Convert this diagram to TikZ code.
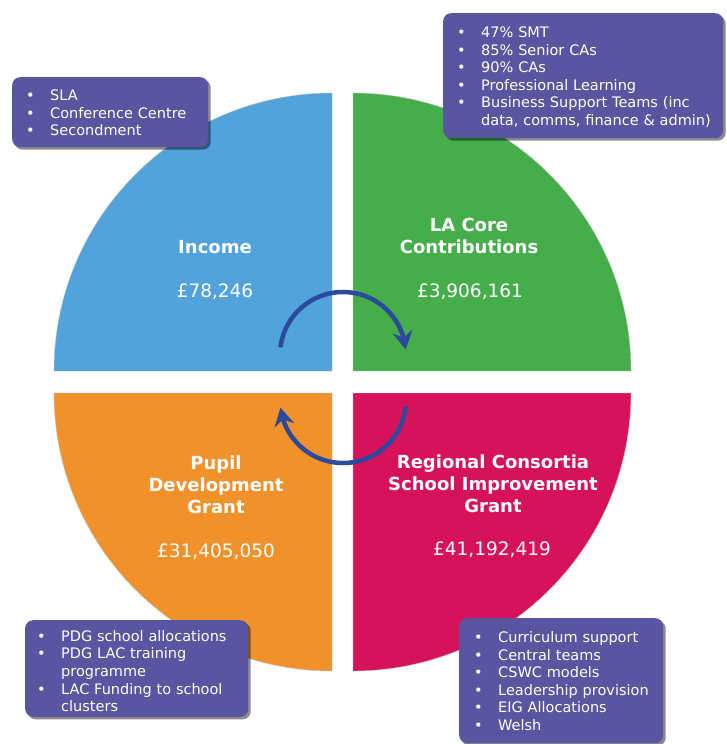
\documentclass[tikz,border=0pt]{standalone}
\usepackage{fontspec}
\setmainfont{DejaVu Sans}
\usepackage{tikz}
\usetikzlibrary{arrows.meta,bending,shadows}
\definecolor{qblue}{HTML}{52A2DB}
\definecolor{qgreen}{HTML}{45AE4B}
\definecolor{qorange}{HTML}{F0912C}
\definecolor{qcrimson}{HTML}{D6135A}
\definecolor{boxpurple}{HTML}{5A55A0}
\definecolor{cycblue}{HTML}{2C4A9C}
\tikzset{
  qtitle/.style={text=white,align=center,font=\fontsize{18}{22}\selectfont\bfseries,inner sep=0pt},
  qamount/.style={text=white,font=\fontsize{18.5}{22}\selectfont,inner sep=0pt},
  infobox/.style={fill=boxpurple,rounded corners=8pt,text=white,anchor=north west,
    inner xsep=14pt,inner ysep=0pt,align=left,font=\fontsize{14.5}{17.6}\selectfont,
    drop shadow={shadow xshift=2.5pt,shadow yshift=-2.5pt,opacity=.45,fill=black}},
  cyc/.style={draw=cycblue,line width=4.5pt,-{Stealth[length=18pt,width=20pt,flex]}},
}
\newcommand{\bl}{\textbullet}
% first-row strut, pushes a list a little lower in its box
\newcommand{\toprow}[1]{\rule{0pt}{#1}}

\begin{document}
\begin{tikzpicture}[x=1pt,y=1pt]
  \useasboundingbox (0,0) rectangle (726,-744);
  % four quarter discs, split by a white cross
  \foreach \cx/\cy/\a/\col in {332/-371/90/qblue,353/-371/0/qgreen,332/-393/180/qorange,353/-393/270/qcrimson}{
    \fill[\col,draw=black!25,line width=.4pt] (\cx,\cy) -- ++(\a:278) arc (\a:\a+90:278) -- cycle;
  }
  % quadrant labels
  \node[qtitle] (income) at (215,-247) {Income};
  \node[qamount] (incomeamt) at (215,-292) {£78,246};
  \node[qtitle] (lacore) at (469,-236) {LA Core\\Contributions};
  \node[qamount] (lacoreamt) at (470,-292) {£3,906,161};
  \node[qtitle] (pdg) at (216,-485) {Pupil\\Development\\Grant};
  \node[qamount] (pdgamt) at (216,-552) {£31,405,050};
  \node[qtitle] (rcsig) at (493,-484) {Regional Consortia\\School Improvement\\Grant};
  \node[qamount] (rcsigamt) at (492,-550) {£41,192,419};
  % cycle arrows round the centre
  \coordinate (upper) at (343,-355);
  \coordinate (lower) at (343,-400);
  \draw[cyc] ([shift={(173:63)}]upper) arc (173:5:63);
  \draw[cyc] ([shift={(-6:63)}]lower) arc (-6:-173:63);
  % call-out boxes
  \node[infobox,text width=168pt,minimum height=70pt] (incomebox) at (12,-77)
    {\begin{tabular}{@{}p{24pt}@{}l@{}}
      \toprow{17pt}\bl & SLA\\ \bl & Conference Centre\\ \bl & Secondment
    \end{tabular}};
  \node[infobox,text width=252pt,minimum height=125pt] (lacorebox) at (443,-13)
    {\begin{tabular}{@{}p{24pt}@{}l@{}}
      \toprow{17pt}\bl & 47\% SMT\\ \bl & 85\% Senior CAs\\ \bl & 90\% CAs\\
      \bl & Professional Learning\\ \bl & Business Support Teams (inc\\
          & data, comms, finance \& admin)
    \end{tabular}};
  \node[infobox,text width=199pt,minimum height=96pt,inner xsep=12pt] (pdgbox) at (25,-620)
    {\begin{tabular}{@{}p{24pt}@{}l@{}}
      \toprow{21pt}\bl & PDG school allocations\\ \bl & PDG LAC training\\ & programme\\
      \bl & LAC Funding to school\\ & clusters
    \end{tabular}};
  \node[infobox,text width=174pt,minimum height=125pt,inner xsep=15pt] (rcsigbox) at (459,-618)
    {\begin{tabular}{@{}p{24pt}@{}l@{}}
      \toprow{17pt}\bl & Curriculum support\\ \bl & Central teams\\ \bl & CSWC models\\
      \bl & Leadership provision\\ \bl & EIG Allocations\\ \bl & Welsh
    \end{tabular}};
\end{tikzpicture}
\end{document}
